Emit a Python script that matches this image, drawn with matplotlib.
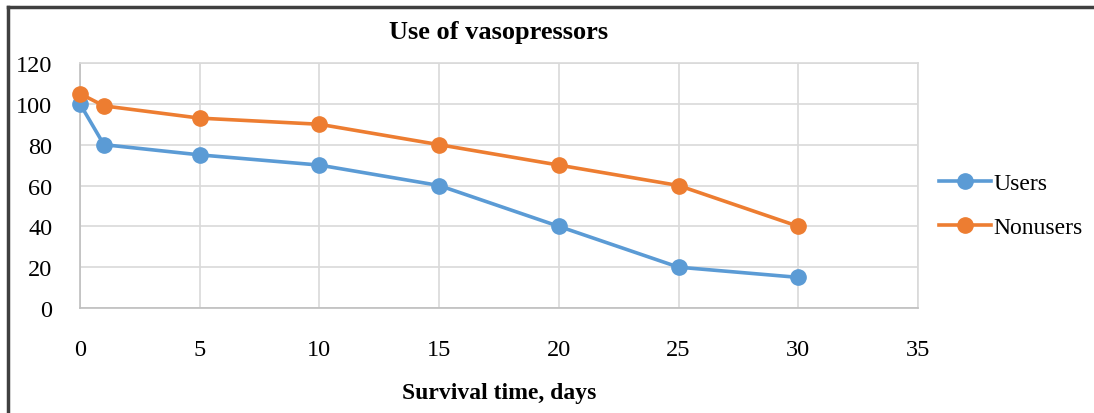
import matplotlib
matplotlib.use('Agg')
import matplotlib.pyplot as plt
from matplotlib.lines import Line2D

plt.rcParams['font.family'] = ['Liberation Serif', 'DejaVu Serif']

days = [0, 1, 5, 10, 15, 20, 25, 30]
users = [100, 80, 75, 70, 60, 40, 20, 15]
nonusers = [105, 99, 93, 90, 80, 70, 60, 40]
x_ticks = [0, 5, 10, 15, 20, 25, 30, 35]
y_ticks = [0, 20, 40, 60, 80, 100, 120]

blue = '#5B9BD5'
orange = '#ED7D31'
grid_c = '#D9D9D9'

fig = plt.figure(figsize=(10.94, 4.14), dpi=100)
ax = fig.add_axes([0.0731, 0.2536, 0.7660, 0.5918])

ax.plot(days, users, color=blue, lw=2.6, marker='o', ms=11, label='Users',
        zorder=3, clip_on=False)
ax.plot(days, nonusers, color=orange, lw=2.6, marker='o', ms=11, label='Nonusers',
        zorder=3, clip_on=False)

ax.set_xlim(0, 35)
ax.set_ylim(0, 120)
ax.set_xticks(x_ticks)
ax.set_yticks(y_ticks)
ax.grid(True, color=grid_c, lw=1.2)
ax.set_axisbelow(True)
for s in ax.spines.values():
    s.set_color(grid_c)
    s.set_linewidth(1.2)
ax.spines['left'].set_color('#BFBFBF')
ax.spines['bottom'].set_color('#BFBFBF')
ax.tick_params(length=0, labelsize=17.5)
ax.tick_params(axis='x', pad=22)
ax.tick_params(axis='y', pad=20)

ax.set_title('Use of vasopressors', fontsize=19, fontweight='bold', pad=18)
ax.set_xlabel('Survival time, days', fontsize=17, fontweight='bold', labelpad=16)

ax.legend(loc='center left', bbox_to_anchor=(1.0, 0.42), frameon=False,
          fontsize=17, handlelength=2.2, handletextpad=0.1, labelspacing=0.95)

# outer frame of the picture (top and left edges)
fig.add_artist(Line2D([0.0073, 1.0], [0.9807, 0.9807], color='#404040', lw=2.5))
fig.add_artist(Line2D([0.0073, 0.0073], [0.0, 0.9807], color='#404040', lw=2.5))

fig.savefig('out.png', dpi=100)
